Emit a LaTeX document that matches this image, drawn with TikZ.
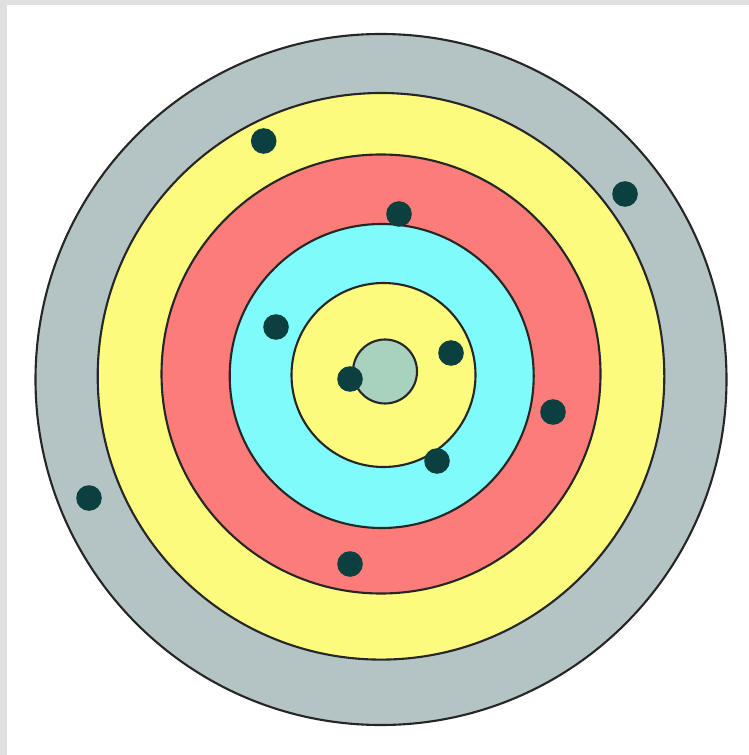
\documentclass[tikz,border=0pt]{standalone}
\definecolor{frame}{HTML}{E0E0E0}
\definecolor{ringgrey}{HTML}{B4C4C4}
\definecolor{ringyellow}{HTML}{FDFB7E}
\definecolor{ringred}{HTML}{FB7C79}
\definecolor{ringcyan}{HTML}{80FBFB}
\definecolor{bullgreen}{HTML}{A9D2BE}
\definecolor{hole}{HTML}{0B3F40}
\begin{document}
\begin{tikzpicture}[x=0.01cm,y=-0.01cm,
  ring/.style={draw=black!85,line width=0.6pt},
  shot/.style={fill=hole}]
\useasboundingbox (0,0) rectangle (749,755);
\fill[frame] (0,0) rectangle (749,755);
\fill[white] (7,5) rectangle (749,755);
% rings
\filldraw[ring,fill=ringgrey] (381,379.5) circle[radius=345.5];
\filldraw[ring,fill=ringyellow] (381,376.3) circle[radius=283.3];
\filldraw[ring,fill=ringred] (381,374) circle[radius=219.5];
\filldraw[ring,fill=ringcyan] (381.7,376) circle[radius=152];
\filldraw[ring,fill=ringyellow] (383.5,375) circle[radius=92];
\filldraw[ring,fill=bullgreen] (385,371.5) circle[radius=32];
% shots
\foreach \px/\py in {263.7/141, 625/194, 399/214, 276/327, 451/353, 350/379, 553/412, 437/461, 89/498, 350/564}
  \fill[shot] (\px,\py) circle[radius=12.8];
\end{tikzpicture}
\end{document}
